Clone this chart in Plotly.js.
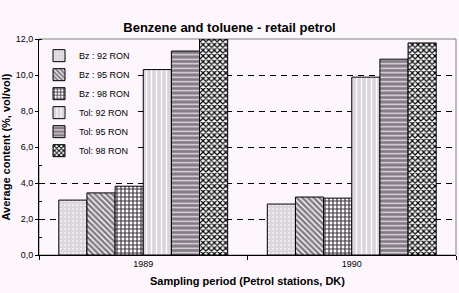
<!DOCTYPE html>
<html>
<head>
<meta charset="utf-8">
<script src="https://cdn.plot.ly/plotly-3.0.1.min.js"></script>
<style>html,body{margin:0;padding:0;background:#fdf6fd;}#chart{width:459px;height:293px;}</style>
</head>
<body>
<div id="chart"></div>
<script>
const periods = ["1989", "1990"];
const seriesNames = ["Bz : 92 RON", "Bz : 95 RON", "Bz : 98 RON", "Tol: 92 RON", "Tol: 95 RON", "Tol: 98 RON"];
const bz92 = [3.05, 2.83];
const bz95 = [3.45, 3.22];
const bz98 = [3.82, 3.16];
const tol92 = [10.3, 9.88];
const tol95 = [11.33, 10.88];
const tol98 = [12.0, 11.78];
const yTickVals = [0, 2, 4, 6, 8, 10, 12];
const yTickText = ["0,0", "2,0", "4,0", "6,0", "8,0", "10,0", "12,0"];

const values = [bz92, bz95, bz98, tol92, tol95, tol98];
const patterns = [
  {shape: ".", bgcolor: "#ddd5dd", fgcolor: "#ffffff", size: 4, solidity: 0.15, fillmode: "replace"},
  {shape: "\\", bgcolor: "#847c84", fgcolor: "#ffffff", size: 4, solidity: 0.35, fillmode: "replace"},
  {shape: "+", bgcolor: "#ffffff", fgcolor: "#3c343c", size: 4, solidity: 0.5, fillmode: "replace"},
  {shape: "|", bgcolor: "#ddd5dd", fgcolor: "#ffffff", size: 5, solidity: 0.25, fillmode: "replace"},
  {shape: "-", bgcolor: "#847c84", fgcolor: "#e8e0e8", size: 4.5, solidity: 0.3, fillmode: "replace"},
  {shape: "x", bgcolor: "#ffffff", fgcolor: "#000000", size: 4, solidity: 0.5, fillmode: "replace"}
];

const traces = values.map((v, i) => ({
  type: "bar",
  name: seriesNames[i],
  x: periods,
  y: v,
  marker: {color: patterns[i].bgcolor, pattern: patterns[i], line: {color: "#000000", width: 1}},
  hoverinfo: "skip"
}));

const bg = "#fdf6fd";
const layout = {
  width: 459, height: 293,
  margin: {l: 39, r: 3, t: 39, b: 38},
  paper_bgcolor: bg, plot_bgcolor: bg,
  font: {family: "Liberation Sans, Arial, sans-serif", color: "#000000", size: 9},
  barmode: "group", bargap: 0.19, bargroupgap: 0,
  title: {text: "<b>Benzene and toluene - retail petrol</b>", font: {size: 13}, x: 0.5, xanchor: "center", y: 0.905, yanchor: "middle"},
  xaxis: {
    type: "category",
    showline: true, linecolor: "#000000", linewidth: 1,
    ticks: "outside", ticklen: 4, tickcolor: "#000000", tickson: "boundaries",
    showgrid: false,
    tickfont: {size: 9},
    title: {text: "<b>Sampling period (Petrol stations, DK)</b>", font: {size: 11}, standoff: 9}
  },
  yaxis: {
    range: [0, 12],
    showline: true, linecolor: "#000000", linewidth: 1,
    tickmode: "array", tickvals: yTickVals, ticktext: yTickText,
    ticks: "outside", ticklen: 3, tickcolor: "#000000",
    showgrid: true, gridcolor: "#000000", gridwidth: 1, griddash: "6px,5px",
    zeroline: false,
    minor: {dtick: 1, ticks: "inside", ticklen: 3, tickcolor: "#000000", showgrid: false},
    tickfont: {size: 9},
    title: {text: "<b>Average content (%, vol/vol)</b>", font: {size: 11}, standoff: 4}
  },
  legend: {
    x: 0.0, y: 0.99, xanchor: "left", yanchor: "top",
    bgcolor: bg, borderwidth: 0,
    font: {size: 9}, itemwidth: 30, tracegroupgap: 0
  },
  shapes: [
    {type: "rect", xref: "paper", yref: "paper", x0: 0, x1: 1, y0: 0, y1: 1, line: {color: "#808080", width: 1}, layer: "below"}
  ],
  showlegend: true
};

Plotly.newPlot("chart", traces, layout, {staticPlot: true, displayModeBar: false});
</script>
</body>
</html>
